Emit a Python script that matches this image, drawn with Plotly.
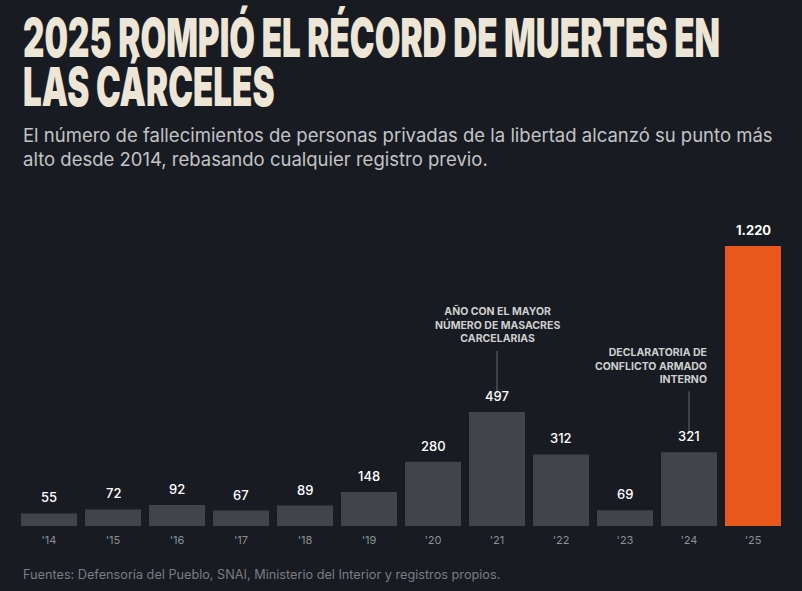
import plotly.graph_objects as go

years = ["'14", "'15", "'16", "'17", "'18", "'19", "'20", "'21", "'22", "'23", "'24", "'25"]
deaths = [55, 72, 92, 67, 89, 148, 280, 497, 312, 69, 321, 1220]
value_labels = ["55", "72", "92", "67", "89", "148", "280", "497", "312", "69", "321", "1.220"]

title_line1 = "2025 ROMPIÓ EL RÉCORD DE MUERTES EN"
title_line2 = "LAS CÁRCELES"
subtitle = ("El número de fallecimientos de personas privadas de la libertad alcanzó su punto más<br>"
            "alto desde 2014, rebasando cualquier registro previo.")
footer = "Fuentes: Defensoría del Pueblo, SNAI, Ministerio del Interior y registros propios."
note_2021 = "AÑO CON EL MAYOR<br>NÚMERO DE MASACRES<br>CARCELARIAS"
note_2024 = "DECLARATORIA DE<br>CONFLICTO ARMADO<br>INTERNO"

BG = "#181b22"
BAR = "#434449"
HIGHLIGHT = "#e8581c"

colors = [HIGHLIGHT if y == "'25" else BAR for y in years]

fig = go.Figure()
fig.add_trace(go.Bar(
    x=list(range(len(years))), y=deaths,
    marker=dict(color=colors, line=dict(width=0)),
    hoverinfo="skip",
))

for i, (v, lab) in enumerate(zip(deaths, value_labels)):
    last = i == len(deaths) - 1
    fig.add_annotation(
        x=i, y=v, xref="x", yref="y", text=lab,
        showarrow=False, yanchor="bottom", yshift=6,
        font=dict(family="Inter", size=13, color="#ffffff", weight=700 if last else 500),
    )

fig.add_annotation(
    x=7, y=497, xref="x", yref="y", text=note_2021,
    showarrow=False, yanchor="bottom", xanchor="center", yshift=65,
    align="center", font=dict(family="Inter", size=10.5, color="#cfcfcf", weight=700),
)
fig.add_annotation(
    x=10, y=321, xref="x", yref="y", text=note_2024,
    showarrow=False, yanchor="bottom", xanchor="right", xshift=20, yshift=64,
    align="right", font=dict(family="Inter", size=10.5, color="#cfcfcf", weight=700),
)

px_per_unit = (526 - 246) / 1220.0
for xi, v in [(7, 497), (10, 321)]:
    fig.add_shape(type="line", xref="x", yref="y", x0=xi, x1=xi,
                  y0=v + 18 / px_per_unit, y1=v + 61 / px_per_unit,
                  line=dict(color="#6a6b70", width=1))

fig.update_layout(
    width=802, height=591,
    paper_bgcolor=BG, plot_bgcolor=BG,
    margin=dict(l=21, r=21, t=246, b=65),
    bargap=0.125,
    showlegend=False,
    xaxis=dict(
        range=[-0.4375, 11.4375], tickmode="array",
        tickvals=list(range(len(years))), ticktext=years,
        showgrid=False, zeroline=False, showline=False, ticks="",
        ticklabelstandoff=6,
        tickfont=dict(family="Inter", size=11, color="#8e9096"),
        fixedrange=True,
    ),
    yaxis=dict(range=[0, 1220], visible=False, fixedrange=True),
)

# title (two lines, heavy font, squeezed horizontally by script below)
fig.add_annotation(
    x=0, y=1, xref="paper", yref="paper", xanchor="left", yanchor="top",
    yshift=243, align="left", showarrow=False, text=title_line1,
    font=dict(family="Inter", size=54, color="#ede6d6", weight=900),
)
fig.add_annotation(
    x=0, y=1, xref="paper", yref="paper", xanchor="left", yanchor="top",
    yshift=194, align="left", showarrow=False, text=title_line2,
    font=dict(family="Inter", size=54, color="#ede6d6", weight=900),
)
fig.add_annotation(
    x=0, y=1, xref="paper", yref="paper", xanchor="left", yanchor="top",
    yshift=246 - 122, align="left", showarrow=False, text=subtitle,
    font=dict(family="Inter", size=18.5, color="#c4c4c4"),
)
fig.add_annotation(
    x=0, y=0, xref="paper", yref="paper", xanchor="left", yanchor="top",
    yshift=-39, align="left", showarrow=False, text=footer,
    font=dict(family="Inter", size=12.7, color="#7b7d83"),
)

post = """
document.documentElement.style.background = '%s';
document.body.style.margin = '0';
document.body.style.background = '%s';
function squeezeTitle() {
  var texts = document.querySelectorAll('text.annotation-text');
  var t1 = null, t2 = null;
  texts.forEach(function (t) {
    var s = t.textContent;
    if (s.indexOf('2025 ROMPI') === 0) t1 = t;
    if (s.indexOf('LAS C') === 0) t2 = t;
  });
  if (!t1) return;
  var w = t1.getBBox().width;
  if (!w) return;
  var sc = 697 / w;
  [t1, t2].forEach(function (t) {
    if (!t) return;
    var bb = t.getBBox();
    var x0 = bb.x;
    t.setAttribute('transform', 'translate(' + x0 + ',0) scale(' + sc + ',1) translate(' + (-x0) + ',0)');
  });
}
squeezeTitle();
setTimeout(squeezeTitle, 50);
setTimeout(squeezeTitle, 400);
""" % (BG, BG)

fig.write_html("out.html", post_script=post, config={"displayModeBar": False})
